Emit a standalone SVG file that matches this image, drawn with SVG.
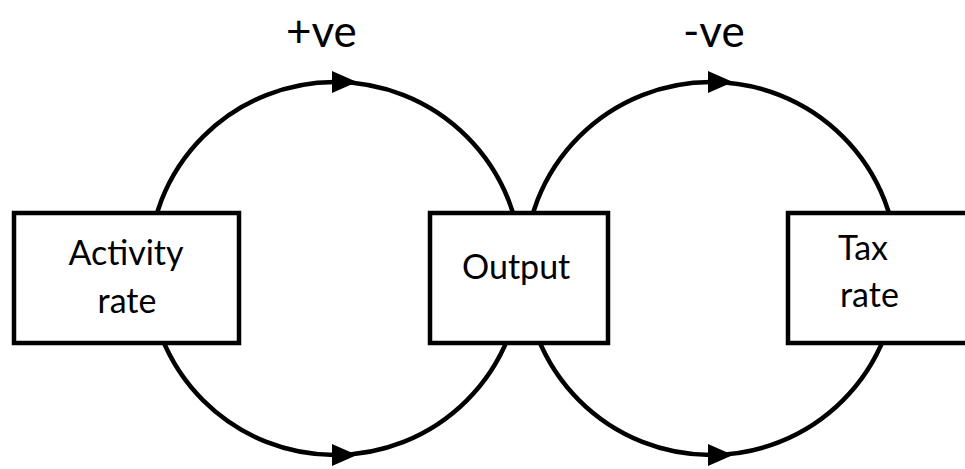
<svg xmlns="http://www.w3.org/2000/svg" width="965" height="469" viewBox="0 0 965 469">
  <style>
    .arc { fill: none; stroke: #000; stroke-width: 4.5; marker-mid: url(#arrow); }
    .box { fill: #fff; stroke: #000; stroke-width: 4.5; }
    .lbl { font-family: Lato, "Liberation Sans", sans-serif; font-size: 34px; fill: #000; }
    .sign { font-family: Lato, "Liberation Sans", sans-serif; font-size: 44px; fill: #000; }
  </style>
  <defs>
    <marker id="arrow" markerUnits="userSpaceOnUse" markerWidth="30" markerHeight="30" refX="3" refY="11" orient="auto" overflow="visible">
      <path d="M0,0 L25,11 L0,22 z" fill="#000"/>
    </marker>
  </defs>
  <rect width="965" height="469" fill="#fff"/>
  <g id="connectors">
    <path class="arc" d="M148.5,268.5 A186.5,186.5 0 0 1 335,82 A186.5,186.5 0 0 1 521.5,268.5"/>
    <path class="arc" d="M148.5,268.5 A186.5,186.5 0 0 0 335,455 A186.5,186.5 0 0 0 521.5,268.5"/>
    <path class="arc" d="M524.5,268.5 A186.5,186.5 0 0 1 711,82 A186.5,186.5 0 0 1 897.5,268.5"/>
    <path class="arc" d="M524.5,268.5 A186.5,186.5 0 0 0 711,455 A186.5,186.5 0 0 0 897.5,268.5"/>
  </g>
  <g id="node-activity">
    <rect class="box" x="14" y="213" width="225" height="130"/>
    <text class="lbl" x="126" y="265" text-anchor="middle">Activity</text>
    <text class="lbl" x="127" y="313" text-anchor="middle">rate</text>
  </g>
  <g id="node-output">
    <rect class="box" x="430" y="213" width="178" height="130"/>
    <text class="lbl" x="462" y="279">Output</text>
  </g>
  <g id="node-tax">
    <rect class="box" x="788" y="213" width="190" height="130"/>
    <text class="lbl" x="838" y="260">Tax</text>
    <text class="lbl" x="840" y="307">rate</text>
  </g>
  <g id="labels">
    <text class="sign" x="286" y="47">+ve</text>
    <text class="sign" x="683" y="47">-ve</text>
  </g>
</svg>
